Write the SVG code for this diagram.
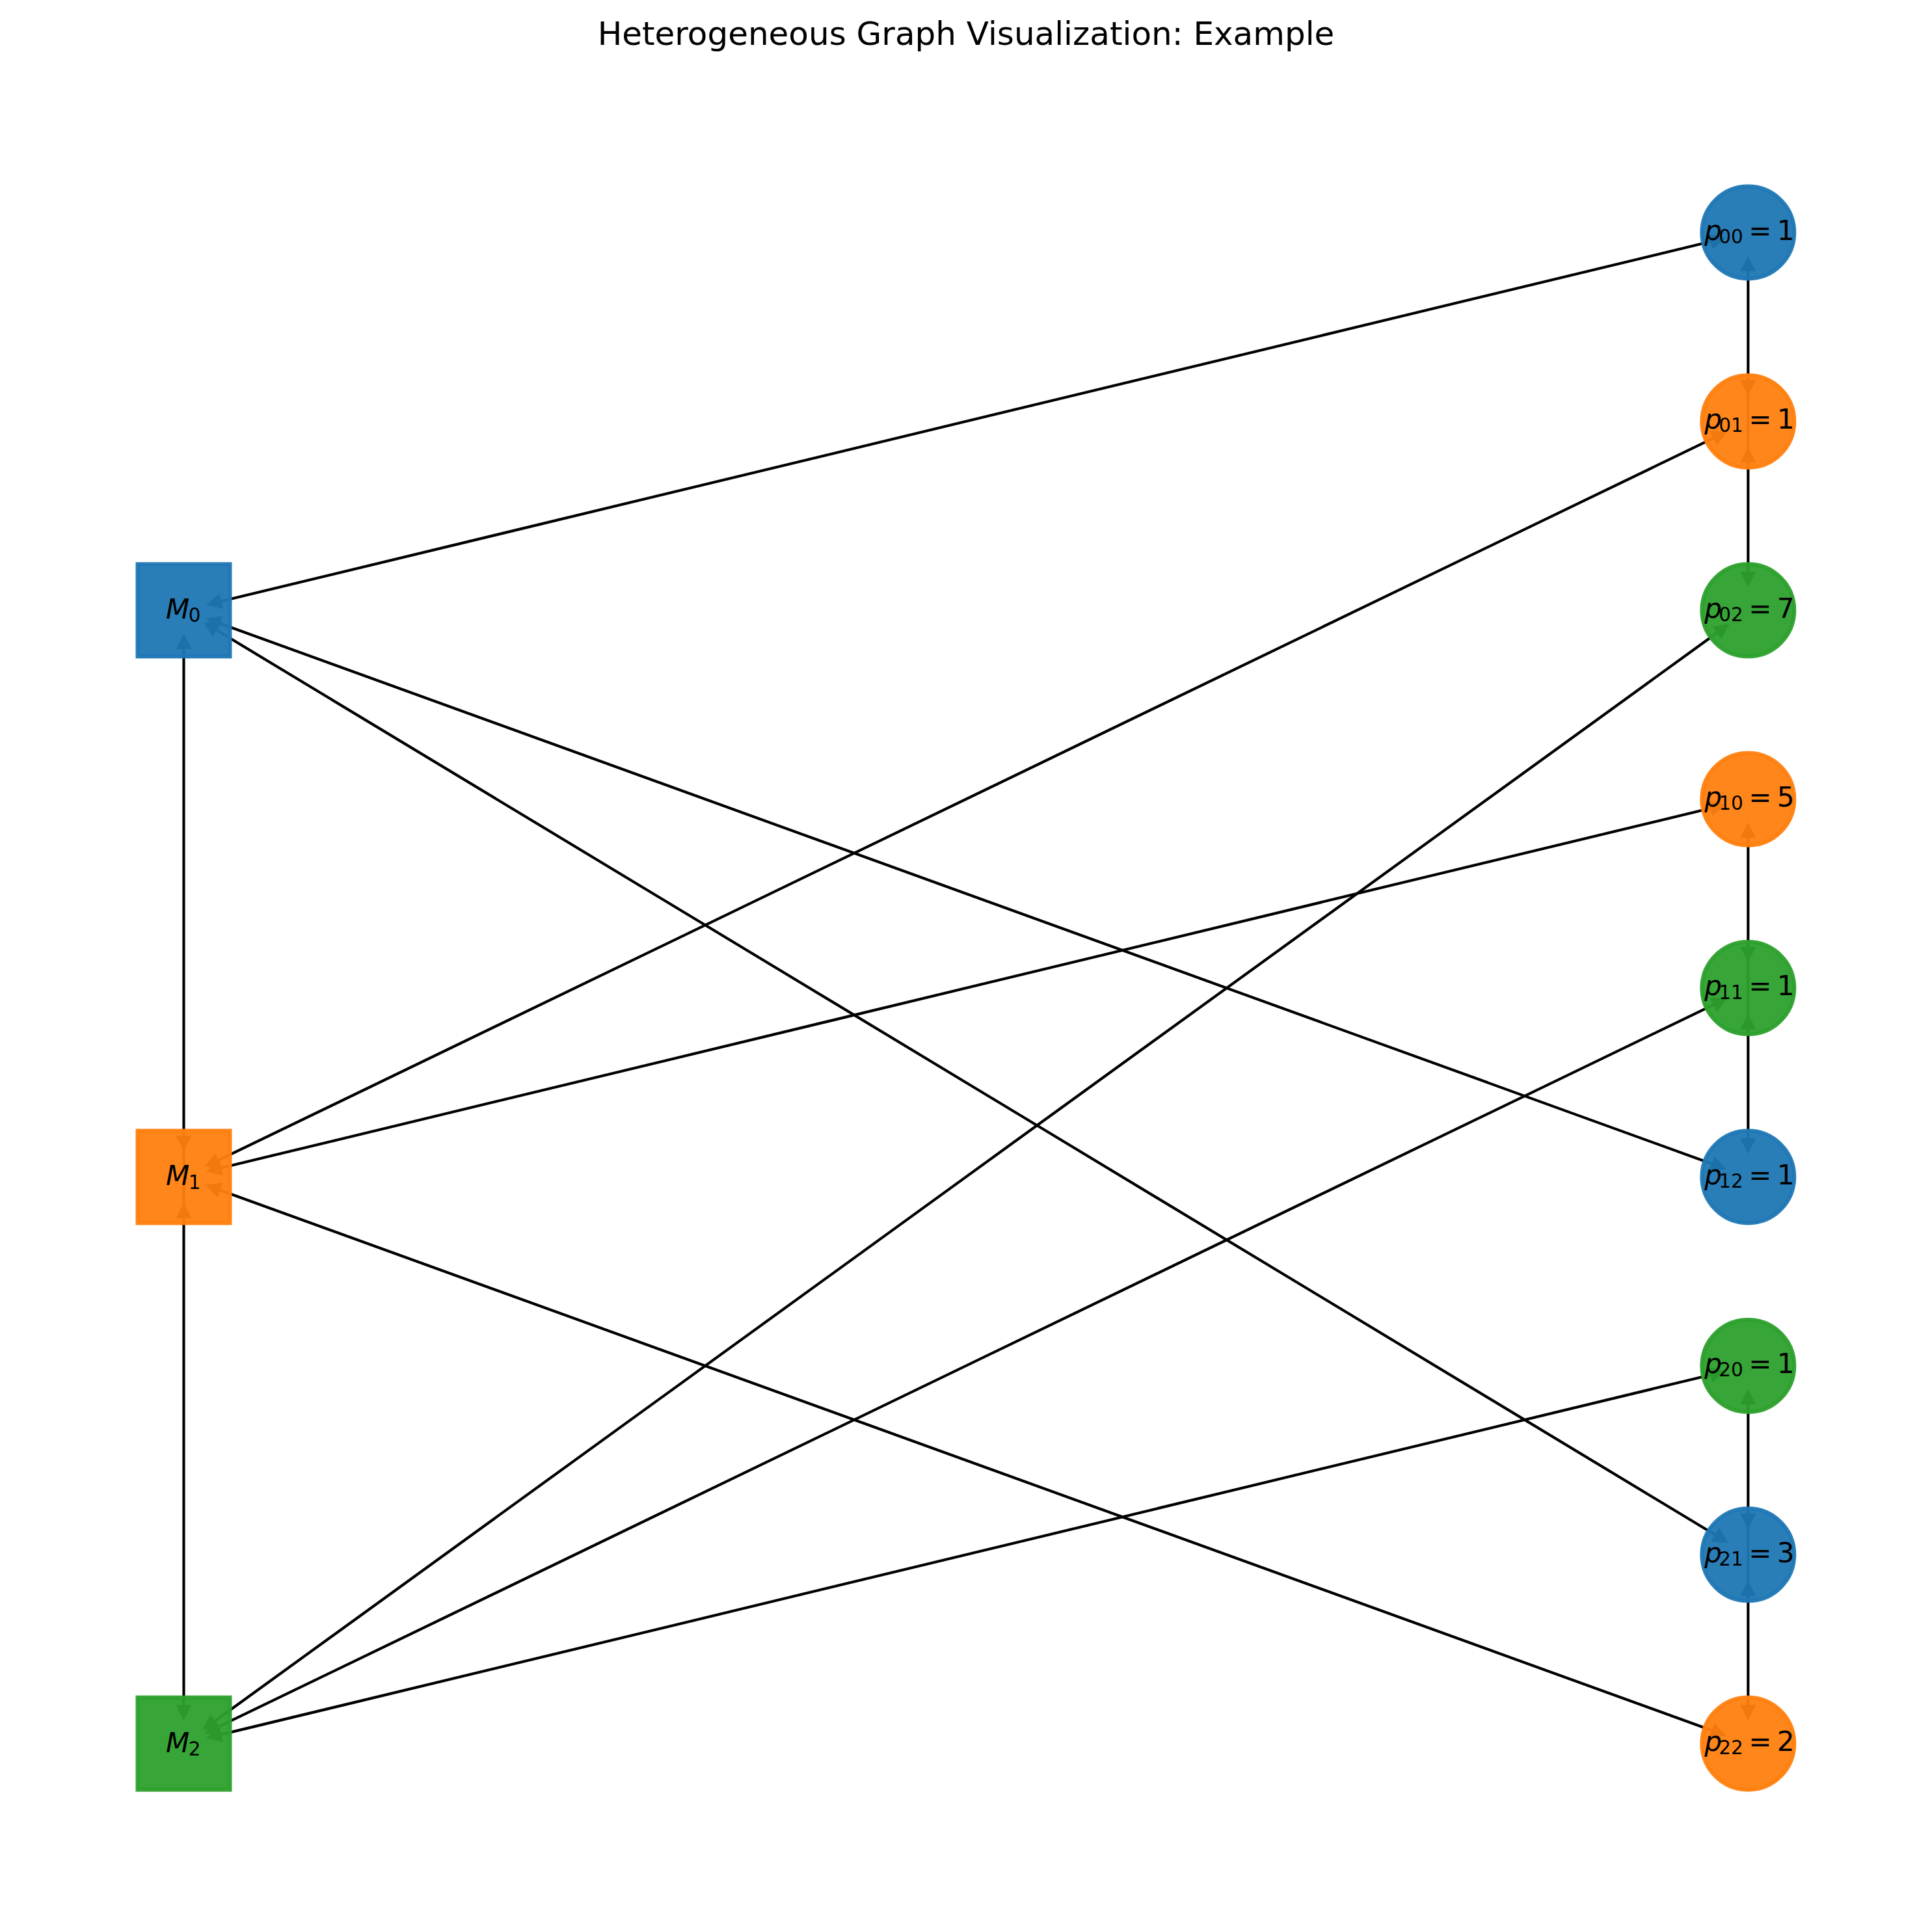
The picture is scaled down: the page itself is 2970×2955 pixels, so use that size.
<svg xmlns="http://www.w3.org/2000/svg" width="2970" height="2955" viewBox="0 0 2970 2955">
<style>
.edge{stroke:#000;stroke-width:4.17;fill:none}
.arr{marker-start:url(#ah);marker-end:url(#ah)}
.lbl{font-family:"DejaVu Sans","Liberation Sans",sans-serif;font-size:42px;fill:#000}
.it{font-style:italic}
.sub{font-size:29.4px}
.title{font-family:"DejaVu Sans","Liberation Sans",sans-serif;font-size:50px;fill:#000}
.b{fill:#1f77b4;stroke:#1f77b4}
.o{fill:#ff7f0e;stroke:#ff7f0e}
.g{fill:#2ca02c;stroke:#2ca02c}
.node{fill-opacity:0.95;stroke-opacity:0.95;stroke-width:6}
</style>
<defs>
<marker id="ah" markerUnits="userSpaceOnUse" viewBox="-26 -13 26 26" markerWidth="26" markerHeight="26" refX="-10" refY="0" orient="auto-start-reverse" overflow="visible">
<path d="M-0.5,0 L-23,-11.3 L-23,11.3 Z" fill="#000" stroke="#000" stroke-width="1" stroke-linejoin="round"/>
</marker>
</defs>
<rect width="2970" height="2955" fill="#fff"/>
<text class="title" x="1485" y="69" text-anchor="middle">Heterogeneous Graph Visualization: Example</text>
<g id="edges">
<line class="edge arr" x1="327.21" y1="927.50" x2="2642.59" y2="368.30"/>
<line class="edge arr" x1="325.75" y1="953.97" x2="2644.05" y2="1793.83"/>
<line class="edge arr" x1="321.88" y1="962.08" x2="2647.92" y2="2366.52"/>
<line class="edge arr" x1="323.92" y1="1789.49" x2="2645.88" y2="667.91"/>
<line class="edge arr" x1="327.21" y1="1798.70" x2="2642.59" y2="1239.50"/>
<line class="edge arr" x1="325.75" y1="1825.17" x2="2644.05" y2="2665.03"/>
<line class="edge arr" x1="319.75" y1="2653.71" x2="2650.05" y2="965.29"/>
<line class="edge arr" x1="323.92" y1="2660.69" x2="2645.88" y2="1539.11"/>
<line class="edge arr" x1="327.21" y1="2669.90" x2="2642.59" y2="2110.70"/>
<line class="edge arr" x1="2687.3" y1="403.5" x2="2687.3" y2="597.9"/>
<line class="edge" x1="2687.3" y1="597.9" x2="2687.3" y2="697.9"/>
<line class="edge arr" x1="2687.3" y1="697.9" x2="2687.3" y2="892.3"/>
<line class="edge arr" x1="2687.3" y1="1274.7" x2="2687.3" y2="1469.1"/>
<line class="edge" x1="2687.3" y1="1469.1" x2="2687.3" y2="1569.1"/>
<line class="edge arr" x1="2687.3" y1="1569.1" x2="2687.3" y2="1763.5"/>
<line class="edge arr" x1="2687.3" y1="2145.9" x2="2687.3" y2="2340.3"/>
<line class="edge" x1="2687.3" y1="2340.3" x2="2687.3" y2="2440.3"/>
<line class="edge arr" x1="2687.3" y1="2440.3" x2="2687.3" y2="2634.7"/>
<line class="edge arr" x1="282.5" y1="984.3" x2="282.5" y2="1759.5"/>
<line class="edge" x1="282.5" y1="1759.5" x2="282.5" y2="1859.5"/>
<line class="edge arr" x1="282.5" y1="1859.5" x2="282.5" y2="2634.7"/>
</g>
<g id="M0">
<rect class="node b" x="211.5" y="867.3" width="142" height="142"/>
<text class="lbl"><tspan class="it" x="255" y="951.1">M</tspan><tspan class="sub" x="289.8" y="956.3">0</tspan></text>
</g>
<g id="M1">
<rect class="node o" x="211.5" y="1738.5" width="142" height="142"/>
<text class="lbl"><tspan class="it" x="255" y="1822.3">M</tspan><tspan class="sub" x="289.8" y="1827.5">1</tspan></text>
</g>
<g id="M2">
<rect class="node g" x="211.5" y="2609.7" width="142" height="142"/>
<text class="lbl"><tspan class="it" x="255" y="2693.5">M</tspan><tspan class="sub" x="289.8" y="2698.7">2</tspan></text>
</g>
<g id="p00">
<circle class="node b" cx="2687.3" cy="357.5" r="71"/>
<text class="lbl"><tspan class="it" x="2620.3" y="368.8">p</tspan><tspan class="sub" x="2642.3" y="374">00</tspan><tspan x="2688.3" y="368.8">=</tspan><tspan x="2731.8" y="368.8">1</tspan></text>
</g>
<g id="p01">
<circle class="node o" cx="2687.3" cy="647.9" r="71"/>
<text class="lbl"><tspan class="it" x="2620.3" y="659.2">p</tspan><tspan class="sub" x="2642.3" y="664.4">01</tspan><tspan x="2688.3" y="659.2">=</tspan><tspan x="2731.8" y="659.2">1</tspan></text>
</g>
<g id="p02">
<circle class="node g" cx="2687.3" cy="938.3" r="71"/>
<text class="lbl"><tspan class="it" x="2620.3" y="949.6">p</tspan><tspan class="sub" x="2642.3" y="954.8">02</tspan><tspan x="2688.3" y="949.6">=</tspan><tspan x="2731.8" y="949.6">7</tspan></text>
</g>
<g id="p10">
<circle class="node o" cx="2687.3" cy="1228.7" r="71"/>
<text class="lbl"><tspan class="it" x="2620.3" y="1240">p</tspan><tspan class="sub" x="2642.3" y="1245.2">10</tspan><tspan x="2688.3" y="1240">=</tspan><tspan x="2731.8" y="1240">5</tspan></text>
</g>
<g id="p11">
<circle class="node g" cx="2687.3" cy="1519.1" r="71"/>
<text class="lbl"><tspan class="it" x="2620.3" y="1530.4">p</tspan><tspan class="sub" x="2642.3" y="1535.6">11</tspan><tspan x="2688.3" y="1530.4">=</tspan><tspan x="2731.8" y="1530.4">1</tspan></text>
</g>
<g id="p12">
<circle class="node b" cx="2687.3" cy="1809.5" r="71"/>
<text class="lbl"><tspan class="it" x="2620.3" y="1820.8">p</tspan><tspan class="sub" x="2642.3" y="1826">12</tspan><tspan x="2688.3" y="1820.8">=</tspan><tspan x="2731.8" y="1820.8">1</tspan></text>
</g>
<g id="p20">
<circle class="node g" cx="2687.3" cy="2099.9" r="71"/>
<text class="lbl"><tspan class="it" x="2620.3" y="2111.2">p</tspan><tspan class="sub" x="2642.3" y="2116.4">20</tspan><tspan x="2688.3" y="2111.2">=</tspan><tspan x="2731.8" y="2111.2">1</tspan></text>
</g>
<g id="p21">
<circle class="node b" cx="2687.3" cy="2390.3" r="71"/>
<text class="lbl"><tspan class="it" x="2620.3" y="2401.6">p</tspan><tspan class="sub" x="2642.3" y="2406.8">21</tspan><tspan x="2688.3" y="2401.6">=</tspan><tspan x="2731.8" y="2401.6">3</tspan></text>
</g>
<g id="p22">
<circle class="node o" cx="2687.3" cy="2680.7" r="71"/>
<text class="lbl"><tspan class="it" x="2620.3" y="2692">p</tspan><tspan class="sub" x="2642.3" y="2697.2">22</tspan><tspan x="2688.3" y="2692">=</tspan><tspan x="2731.8" y="2692">2</tspan></text>
</g>
</svg>
